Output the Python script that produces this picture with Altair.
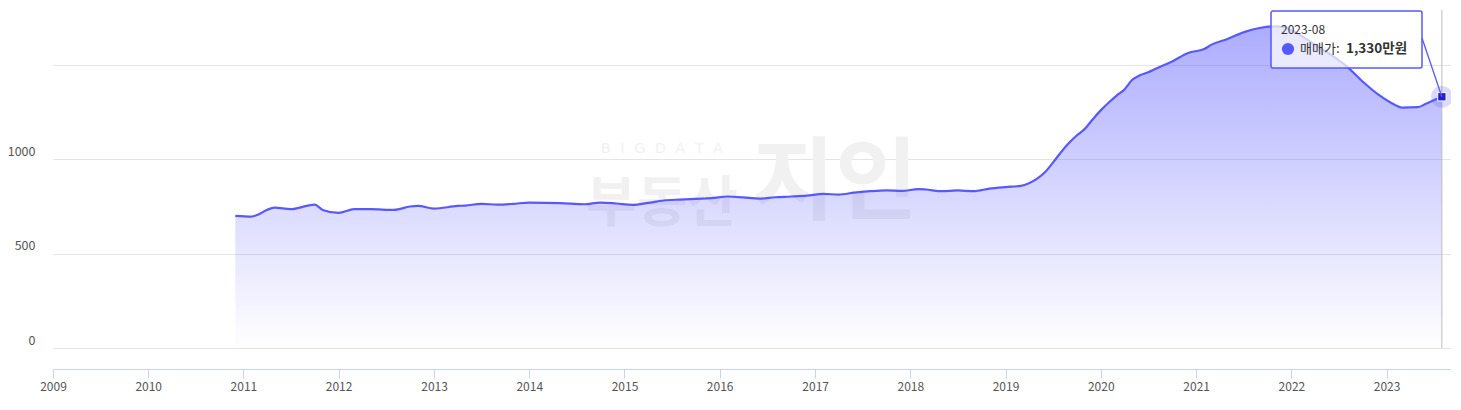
import altair as alt
import pandas as pd

# ---- data ----
dates = ["2010-12", "2011-02", "2011-03", "2011-04", "2011-05", "2011-07", "2011-09", "2011-10", "2011-11",
         "2012-01", "2012-03", "2012-05", "2012-08", "2012-10", "2012-11",
         "2013-01", "2013-04", "2013-05", "2013-07", "2013-09", "2013-11",
         "2014-01", "2014-05", "2014-08", "2014-10", "2014-12",
         "2015-02", "2015-04", "2015-06", "2015-08", "2015-10", "2015-12",
         "2016-02", "2016-04", "2016-06", "2016-08", "2016-10", "2016-12",
         "2017-02", "2017-04", "2017-06", "2017-08", "2017-10", "2017-12",
         "2018-02", "2018-03", "2018-05", "2018-07", "2018-09", "2018-11",
         "2019-01", "2019-03", "2019-04", "2019-05", "2019-06", "2019-07", "2019-08", "2019-09",
         "2019-10", "2019-11", "2019-12",
         "2020-01", "2020-02", "2020-03", "2020-04", "2020-05", "2020-06", "2020-07", "2020-08",
         "2020-10", "2020-12",
         "2021-02", "2021-03", "2021-05", "2021-07", "2021-09", "2021-11", "2021-12",
         "2022-02", "2022-04", "2022-06", "2022-08", "2022-10", "2022-12",
         "2023-02", "2023-03", "2023-05", "2023-06", "2023-08"]
values = [700, 696, 708, 731, 743, 735, 752, 759, 731,
          715, 735, 735, 731, 749, 752,
          738, 752, 754, 763, 759, 763,
          770, 767, 761, 770, 765,
          758, 768, 781, 786, 790, 793,
          802, 797, 791, 798, 802, 807,
          816, 812, 823, 830, 834, 832,
          841, 839, 830, 834, 830, 844,
          852, 858, 872, 895, 930, 980, 1035, 1085,
          1125, 1160, 1210,
          1258, 1300, 1335, 1369, 1420, 1445, 1460, 1480,
          1517, 1562,
          1583, 1606, 1636, 1671, 1694, 1703, 1699,
          1659, 1606, 1553, 1491, 1411, 1341,
          1288, 1273, 1275, 1293, 1330]
year_ticks = list(range(2009, 2024))
y_ticks = [0, 500, 1000, 1500]
x_domain = ["2009-01-01", "2023-09-05"]
y_domain = [0, 1800]

tip_date = "2023-08"
tip_series = "매매가:"
tip_value = "1,330만원"
wm_small = "\u2002\u2009".join("BIGDATA")
wm_main = "부동산"
wm_brand = "지인"

FONT = "Noto Sans CJK KR"
LINE = "#5858ff"

df = pd.DataFrame({"date": [d + "-01" for d in dates], "value": values})
last = df.iloc[[-1]].reset_index(drop=True)
one = pd.DataFrame({"a": [0]})

xscale = alt.Scale(type="utc", domain=x_domain)
yscale = alt.Scale(domain=y_domain, nice=False, zero=False)

x_axis = alt.Axis(
    values=[alt.DateTime(year=y, month=1, date=1, utc=True) for y in year_ticks],
    format="%Y", title=None, grid=False, offset=21, labelFlush=False,
    domainColor="#c8d3f0", domainWidth=1.2, tickColor="#c8d3f0", tickSize=9,
    labelPadding=3, labelColor="#555555", labelFont=FONT, labelFontSize=12,
)
y_axis = alt.Axis(
    values=y_ticks, title=None, domain=False, ticks=False, grid=True,
    gridColor="#e4e4e4", gridWidth=1,
    labelExpr="datum.value == 1500 ? '' : datum.value",
    labelPadding=18, labelOffset=-8, labelColor="#555555",
    labelFont=FONT, labelFontSize=12.5,
)

X = alt.X("date:T", scale=xscale, axis=x_axis)
Y = alt.Y("value:Q", scale=yscale, axis=y_axis)

# watermark
wm1 = alt.Chart(pd.DataFrame({"t": [wm_small]})).mark_text(
    font="DejaVu Sans", fontSize=14, color="#f1f1f1", align="center", baseline="middle"
).encode(text="t:N", x=alt.value(609), y=alt.value(141))
wm2 = alt.Chart(pd.DataFrame({"t": [wm_main]})).mark_text(
    font=FONT, fontSize=55, fontWeight="bold", color="#f1f1f1", align="center", baseline="middle"
).encode(text="t:N", x=alt.value(609), y=alt.value(196))
wm3 = alt.Chart(pd.DataFrame({"t": [wm_brand]})).mark_text(
    font=FONT, fontSize=90, fontWeight="bold", color="#f1f1f1", align="center", baseline="middle"
).encode(text="t:N", x=alt.value(782), y=alt.value(177))

gradient = alt.Gradient(
    gradient="linear",
    stops=[alt.GradientStop(color="rgba(90,90,255,0.50)", offset=0),
           alt.GradientStop(color="rgba(90,90,255,0.0)", offset=1)],
    x1=1, x2=1, y1=0, y2=1,
)
area = alt.Chart(df).mark_area(interpolate="monotone", color=gradient).encode(x=X, y=Y)
line = alt.Chart(df).mark_line(interpolate="monotone", color=LINE, strokeWidth=2.2).encode(x=X, y=Y)

cross = alt.Chart(last).mark_rule(color="#bdbdbd", strokeWidth=1).encode(
    x=X, y=alt.value(2), y2=alt.value(340))

halo = alt.Chart(last).mark_point(shape="circle", filled=True, size=470, color=LINE, opacity=0.22).encode(x=X, y=Y)
sq = alt.Chart(last).mark_point(shape="square", filled=True, size=70, fill="#2424c4", stroke="white",
                                 strokeWidth=1, opacity=1).encode(x=X, y=Y)

conn = alt.Chart(last).mark_rule(color=LINE, strokeWidth=1.3).encode(
    x=X, y=Y, x2=alt.value(1369), y2=alt.value(30))

box = alt.Chart(one).mark_rect(fill="white", fillOpacity=0.72, stroke=LINE, strokeWidth=1.5,
                               cornerRadius=2).encode(
    x=alt.value(1218), x2=alt.value(1369), y=alt.value(3), y2=alt.value(60))

t1 = alt.Chart(pd.DataFrame({"t": [tip_date]})).mark_text(
    font=FONT, fontSize=12, color="#333333", align="left", baseline="middle"
).encode(text="t:N", x=alt.value(1228), y=alt.value(22))
dot = alt.Chart(one).mark_point(shape="circle", filled=True, size=150, color=LINE, opacity=1).encode(
    x=alt.value(1235), y=alt.value(41))
t2 = alt.Chart(pd.DataFrame({"t": [tip_series]})).mark_text(
    font=FONT, fontSize=13, color="#333333", align="left", baseline="middle"
).encode(text="t:N", x=alt.value(1247), y=alt.value(41))
t3 = alt.Chart(pd.DataFrame({"t": [tip_value]})).mark_text(
    font=FONT, fontSize=13.5, fontWeight="bold", color="#333333", align="left", baseline="middle"
).encode(text="t:N", x=alt.value(1293), y=alt.value(41))

chart = alt.layer(wm1, wm2, wm3, area, line, cross, halo, sq, conn, box, t1, dot, t2, t3).properties(
    width=1398, height=340,
    autosize=alt.AutoSizeParams(type="none"),
    padding={"left": 45, "top": 0, "right": 0, "bottom": 50},
).configure(font=FONT).configure_view(stroke=None)

chart.save("out.html", embed_options={"renderer": "svg", "actions": False})
